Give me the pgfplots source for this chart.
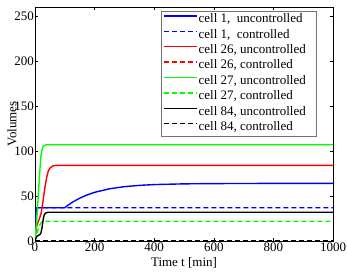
\documentclass[border=0pt]{standalone}
\usepackage{pgfplots}
\pgfplotsset{compat=1.18}
\usepackage{fontspec}
\setmainfont{Liberation Serif}
\begin{document}
\begin{tikzpicture}
\path[use as bounding box] (-35pt,-32pt) rectangle (312pt,241pt);
\begin{axis}[
  at={(0pt,0pt)}, anchor=south west,
  scale only axis, width=298pt, height=234pt,
  xmin=0, xmax=1000, ymin=0, ymax=260,
  xtick={0,200,400,600,800,1000},
  ytick={0,50,100,150,200,250},
  tick align=inside, major tick length=3pt,
  tick style={black, line width=0.4pt},
  axis line style={black, line width=0.5pt},
  /pgf/number format/assume math mode=true,
  /pgf/number format/1000 sep={},
  ticklabel style={font=\fontsize{13}{15}\selectfont},
  xticklabel style={inner sep=1pt, yshift=-1pt},
  yticklabel style={inner sep=1pt},
  label style={font=\fontsize{13}{15}\selectfont},
  xlabel={Time t [min]},
  ylabel={Volumes},
  xlabel style={at={(axis description cs:0.5,-0.094)}, anchor=center},
  ylabel style={at={(axis description cs:-0.077,0.5)}, anchor=center},
  legend style={at={(axis description cs:0.943,0.985)}, anchor=north east,
    draw=black!55, font=\fontsize{13}{15}\selectfont,
    inner xsep=2pt, inner ysep=1pt, row sep=0pt,
    nodes={inner sep=1pt, text height=10pt, text depth=3.4pt}},
  legend cell align=left,
  legend image code/.code={\draw[line width=1.5pt,#1] (3pt,3.5pt) -- (36pt,3.5pt);},
  every axis plot/.append style={line width=1.4pt},
]
\addplot[blue] coordinates {(0,0)(2,25)(4,35)(6,37)(100,37)(110,39.6)(125,43)(150,47.6)(175,51.2)(200,54.1)(250,58.0)(300,60.4)(350,61.8)(400,62.7)(500,63.5)(600,63.8)(800,64)(1000,64)};
\addlegendentry{cell 1,\ \ uncontrolled\hspace*{7pt}}
\addplot[blue, dash pattern=on 5pt off 3pt] coordinates {(0,0)(2,25)(4,35)(6,37)(1000,37)};
\addlegendentry{cell 1,\ \ controlled}
\addplot[red] coordinates {(0,0)(3,10)(6,17)(10,21)(15,25)(20,30)(25,40)(30,52)(35,63)(40,72)(45,78)(50,81)(60,83.5)(70,84)(1000,84)};
\addlegendentry{cell 26, uncontrolled\hspace*{7pt}}
\addplot[red, dash pattern=on 5pt off 3pt] coordinates {(0,0.5)(1000,0.5)};
\addlegendentry{cell 26, controlled}
\addplot[green] coordinates {(0,0)(5,20)(10,45)(15,72)(20,95)(25,103.5)(30,106)(40,107)(1000,107)};
\addlegendentry{cell 27, uncontrolled\hspace*{7pt}}
\addplot[green, dash pattern=on 5pt off 3pt] coordinates {(0,0)(5,6)(10,12)(15,17)(20,20)(25,21.5)(35,22)(1000,22)};
\addlegendentry{cell 27, controlled}
\addplot[black] coordinates {(0,0)(3,3)(6,5)(10,6)(15,7)(19,8)(22,12)(25,18)(28,25)(31,29)(35,31)(45,32)(60,32)(1000,32)};
\addlegendentry{cell 84, uncontrolled\hspace*{7pt}}
\addplot[black, dash pattern=on 5pt off 3pt] coordinates {(0,0)(1000,0)};
\addlegendentry{cell 84, controlled}
\end{axis}
\end{tikzpicture}
\end{document}
